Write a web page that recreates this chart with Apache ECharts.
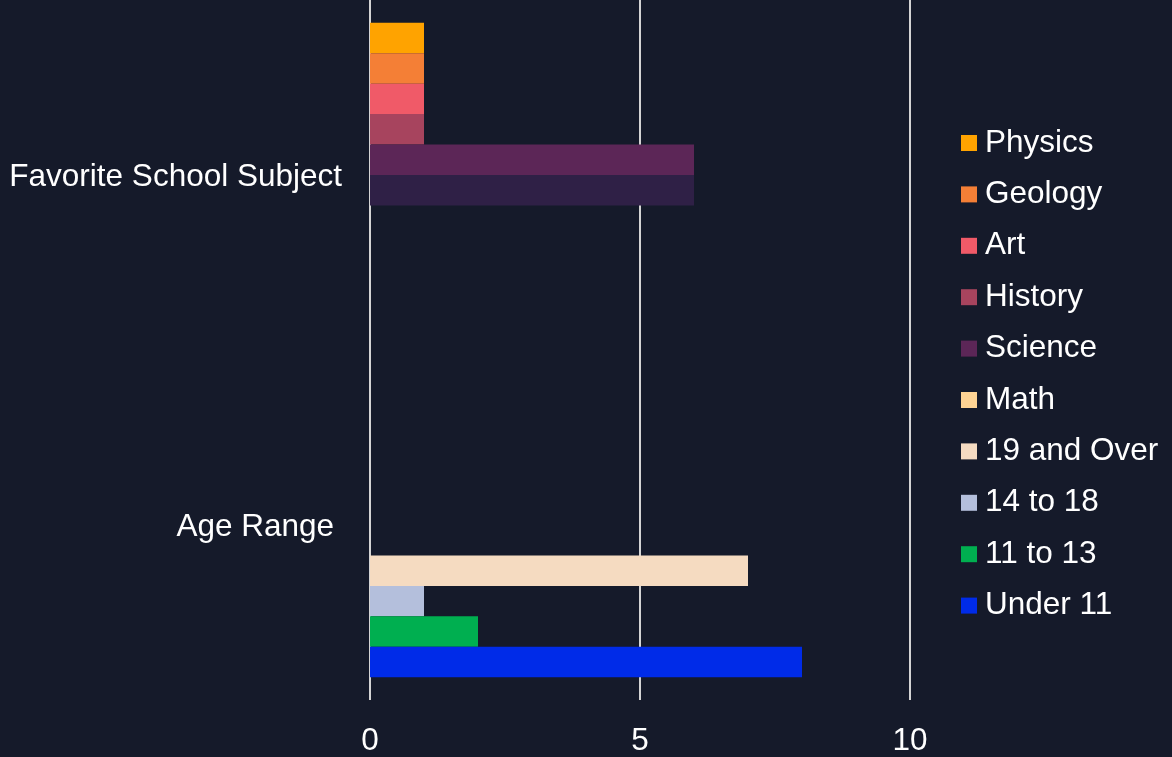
<!DOCTYPE html>
<html>
<head>
<meta charset="utf-8">
<script src="https://cdn.jsdelivr.net/npm/echarts@6/dist/echarts.min.js"></script>
<style>
html,body{margin:0;padding:0;background:#151a2a;}
#chart{width:1172px;height:757px;}
</style>
</head>
<body>
<div id="chart"></div>
<script>
// ---- data ----
const categories = ['Age Range', 'Favorite School Subject'];
const subjectNames = ['Physics', 'Geology', 'Art', 'History', 'Science', 'Math'];
const subjectCounts = [1, 1, 1, 1, 6, 6];
const ageNames = ['19 and Over', '14 to 18', '11 to 13', 'Under 11'];
const ageCounts = [7, 1, 2, 8];
const xTickMin = 0, xTickMax = 15, xTickStep = 5;

// ---- styles ----
const subjectColors = ['#ffa300', '#f47f36', '#f05a68', '#a7445e', '#5c2657', '#ffd494'];
const subjectBarColors = ['#ffa300', '#f47f36', '#f05a68', '#a7445e', '#5c2657', '#2f2046'];
const ageColors = ['#f5dbc1', '#b4bfdc', '#00af50', '#002be8'];
const FONT = '"Liberation Sans", Arial, sans-serif';
const FS = 31.5;

const series = [];
subjectNames.forEach((name, i) => {
  series.push({
    name: name,
    type: 'bar',
    barGap: 0,
    barCategoryGap: '13%',
    itemStyle: { color: subjectColors[i] },
    data: ['-', { value: subjectCounts[i], itemStyle: { color: subjectBarColors[i] } }]
  });
});
ageNames.forEach((name, i) => {
  series.push({
    name: name,
    type: 'bar',
    barGap: 0,
    barCategoryGap: '13%',
    itemStyle: { color: ageColors[i] },
    data: [ageCounts[i], '-']
  });
});

const chart = echarts.init(document.getElementById('chart'), null, { renderer: 'canvas' });
chart.setOption({
  backgroundColor: '#151a2a',
  animation: false,
  textStyle: { fontFamily: FONT },
  grid: { left: 370, width: 810, top: 0, bottom: 57, containLabel: false, outerBoundsMode: 'none' },
  legend: {
    orient: 'vertical',
    left: 956,
    top: 122,
    itemWidth: 16,
    itemHeight: 16,
    itemGap: 19.4,
    icon: 'rect',
    textStyle: { color: '#ffffff', fontSize: FS, fontFamily: FONT, padding: [0, 0, 0, 3] },
    data: subjectNames.concat(ageNames)
  },
  xAxis: {
    type: 'value',
    min: xTickMin,
    max: xTickMax,
    interval: xTickStep,
    axisLine: { show: false },
    axisTick: { show: false },
    axisLabel: { color: '#ffffff', fontSize: FS, fontFamily: FONT, margin: 25, showMaxLabel: false },
    splitLine: { show: true, showMaxLine: false, lineStyle: { color: '#d4d4d4', width: 2 } }
  },
  yAxis: {
    type: 'category',
    data: categories,
    axisLine: { show: false },
    axisTick: { show: false },
    axisLabel: {
      color: '#ffffff', fontSize: FS, fontFamily: FONT, margin: 28,
      formatter: function (v, idx) { return (idx === 0 ? '{a|' : '{b|') + v + '}'; },
      rich: {
        a: { color: '#ffffff', fontSize: FS, fontFamily: FONT, padding: [5, 8, 0, 0] },
        b: { color: '#ffffff', fontSize: FS, fontFamily: FONT, padding: [5, 0, 0, 0] }
      }
    },
    splitLine: { show: false }
  },
  series: series
});
</script>
</body>
</html>
